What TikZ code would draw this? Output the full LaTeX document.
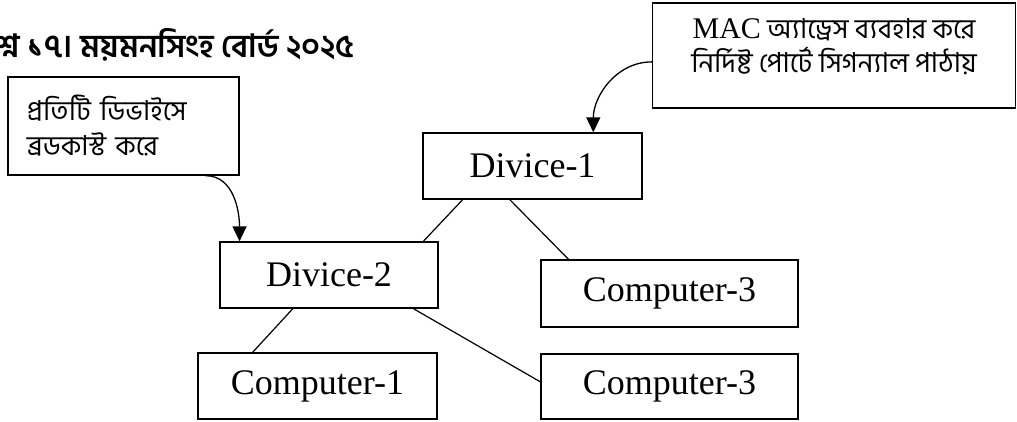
\documentclass[tikz,border=0pt]{standalone}
\usepackage{fontspec}
\setmainfont{Liberation Serif}
\newfontfamily\bn[Script=Bengali]{Hind Siliguri}
\usetikzlibrary{arrows.meta,calc}
\tikzset{
  box/.style={draw=black, line width=1.3pt, inner sep=0pt, anchor=center, font=\fontsize{36}{40}\selectfont},
  conn/.style={line width=1.2pt},
  callarrow/.style={line width=1.3pt, -{Triangle[length=15pt,width=14pt]}}
}
\begin{document}
\begin{tikzpicture}[x=1pt,y=-1pt]
\useasboundingbox (0,0) rectangle (1017,421);
\clip (0,0) rectangle (1017,421);
% title (its first letters fall outside the picture, as in the reference)
\node[anchor=base west, inner sep=0pt, font=\bn\bfseries\fontsize{32}{34}\selectfont] (title) at (-21,57) {প্রশ্ন ১৭। ময়মনসিংহ বোর্ড ২০২৫};
% callout boxes
\node[draw=black, line width=1.3pt, anchor=center, minimum width=231pt, minimum height=98pt, text width=193pt, inner xsep=19pt, inner ysep=0pt, align=left, font=\bn\fontsize{27.5}{35}\selectfont] (bc) at (123.5,126) {প্রতিটি ডিভাইসে\\ব্রডকাস্ট করে};
\node[draw=black, line width=1.3pt, anchor=center, minimum width=363pt, minimum height=105pt, inner sep=0pt, font=\bn\fontsize{27.5}{30}\selectfont] (mac) at (834,55.5) {\raisebox{0pt}[30pt][30pt]{\begin{tabular}{@{}c@{}}{\rmfamily\fontsize{30}{30}\selectfont MAC} অ্যাড্রেস ব্যবহার করে\\[0pt]নির্দিষ্ট পোর্টে সিগন্যাল পাঠায়\end{tabular}}};
% network boxes
\node[box, minimum width=219pt, minimum height=66pt] (d1) at (532.5,166) {Divice-1};
\node[box, minimum width=218pt, minimum height=66pt] (d2) at (329,275) {Divice-2};
\node[box, minimum width=257pt, minimum height=67pt] (c3a) at (669.5,293.5) {Computer-3};
\node[box, minimum width=257pt, minimum height=65pt] (c3b) at (669.5,386.5) {Computer-3};
\node[box, minimum width=239pt, minimum height=66pt] (c1) at (317.5,386) {Computer-1};
% connectors
\draw[conn] ($(d1.south west)!0.183!(d1.south east)$) -- ($(d2.north west)!0.93!(d2.north east)$);
\draw[conn] ($(d1.south west)!0.397!(d1.south east)$) -- ($(c3a.north west)!0.109!(c3a.north east)$);
\draw[conn] ($(d2.south west)!0.335!(d2.south east)$) -- ($(c1.north west)!0.23!(c1.north east)$);
\draw[conn] ($(d2.south west)!0.885!(d2.south east)$) -- ($(c3b.north west)!0.43!(c3b.south west)$);
% callout arrows
\draw[callarrow] ($(bc.south west)!0.853!(bc.south east)$) to[out=0,in=90] ($(d2.north west)!0.092!(d2.north east)$);
\draw[callarrow] ($(mac.north west)!0.56!(mac.south west)$) to[out=180,in=90] ($(d1.north west)!0.776!(d1.north east)$);
\end{tikzpicture}
\end{document}
